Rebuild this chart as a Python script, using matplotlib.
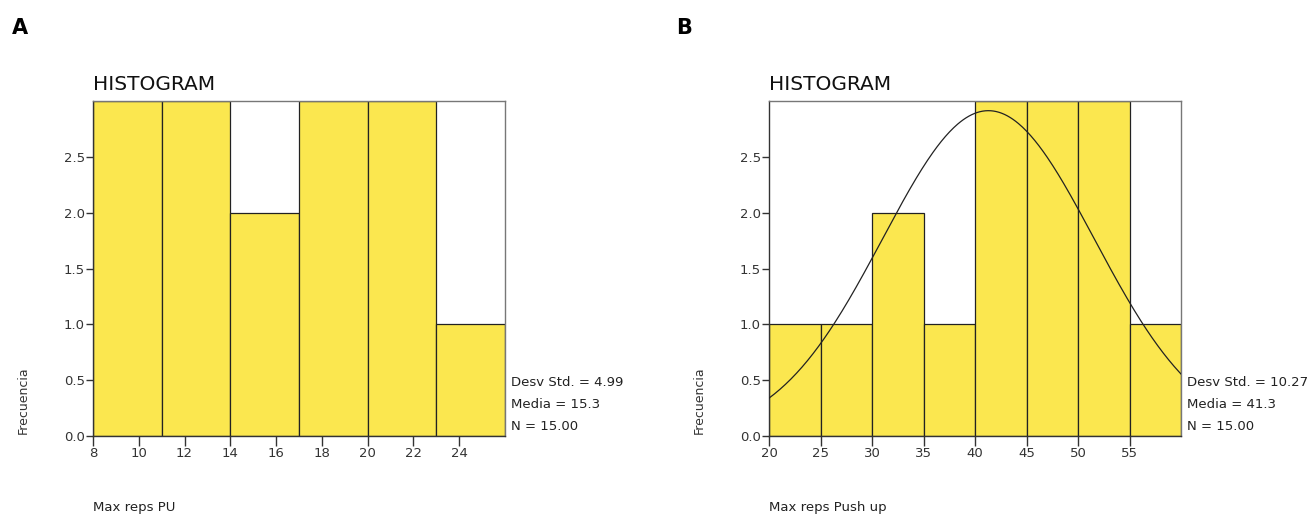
import numpy as np
import matplotlib
matplotlib.use("Agg")
import matplotlib.pyplot as plt

# Data
edges_a = [8, 11, 14, 17, 20, 23, 26]
counts_a = [3, 3, 2, 3, 3, 1]
xticks_a = [8, 10, 12, 14, 16, 18, 20, 22, 24]
stats_a = ["Desv Std. = 4.99", "Media = 15.3", "N = 15.00"]

edges_b = [20, 25, 30, 35, 40, 45, 50, 55, 60]
counts_b = [1, 1, 2, 1, 3, 3, 3, 1]
xticks_b = [20, 25, 30, 35, 40, 45, 50, 55]
mean_b, sd_b, n_b = 41.3, 10.27, 15
stats_b = ["Desv Std. = 10.27", "Media = 41.3", "N = 15.00"]

yticks = [0.0, 0.5, 1.0, 1.5, 2.0, 2.5]

W, H = 1311, 517
fig = plt.figure(figsize=(W/100, H/100), dpi=100)
fig.patch.set_facecolor("white")
yellow = "#FBE74F"

def px(x, y):
    return x / W, 1 - y / H

def make(ax_left_px, edges, counts, xticks, stats, xlabel, letter, letter_x, curve=None):
    ax = fig.add_axes([ax_left_px / W, (H - 436) / H, 412 / W, 335 / H])
    widths = np.diff(edges)
    ax.bar(edges[:-1], counts, width=widths, align="edge", color=yellow,
           edgecolor="#222222", linewidth=0.9, zorder=2)
    if curve is not None:
        m, s, n = curve
        xs = np.linspace(edges[0], edges[-1], 300)
        bw = widths[0]
        ys = n * bw / (s * np.sqrt(2 * np.pi)) * np.exp(-0.5 * ((xs - m) / s) ** 2)
        ax.plot(xs, ys, color="#222222", linewidth=0.9, zorder=3)
    ax.set_xlim(edges[0], edges[-1])
    ax.set_ylim(0, 3.0)
    ax.set_xticks(xticks)
    ax.set_xticklabels([str(t) for t in xticks], fontsize=9.5, color="#222222")
    ax.set_yticks(yticks)
    ax.set_yticklabels([f"{t:.1f}" for t in yticks], fontsize=9.5, color="#222222")
    ax.tick_params(axis="x", direction="out", length=7, width=1, pad=1, colors="#333333")
    ax.tick_params(axis="y", direction="out", length=5, width=1, pad=1, colors="#333333")
    for sp in ax.spines.values():
        sp.set_color("#777777")
        sp.set_linewidth(1)
    ax.spines["bottom"].set_color("#333333")
    ax.spines["left"].set_color("#333333")
    fig.text(*px(ax_left_px, 85), "HISTOGRAM", fontsize=14.5, ha="left", va="center", color="#111111")
    for i, s in enumerate(stats):
        fig.text(*px(ax_left_px + 418, 382 + i * 22.5), s, fontsize=9.5, ha="left", va="center", color="#222222")
    fig.text(*px(ax_left_px - 70, 400), "Frecuencia", rotation=90, fontsize=9, ha="center", va="center", color="#333333")
    fig.text(*px(ax_left_px, 508), xlabel, fontsize=9.5, ha="left", va="center", color="#222222")
    fig.text(*px(letter_x, 28), letter, fontsize=15, fontweight="bold", ha="left", va="center")
    return ax

make(93, edges_a, counts_a, xticks_a, stats_a, "Max reps PU", "A", 12)
make(769, edges_b, counts_b, xticks_b, stats_b, "Max reps Push up", "B", 676,
     curve=(mean_b, sd_b, n_b))

fig.savefig("out.png", dpi=100, facecolor="white")
